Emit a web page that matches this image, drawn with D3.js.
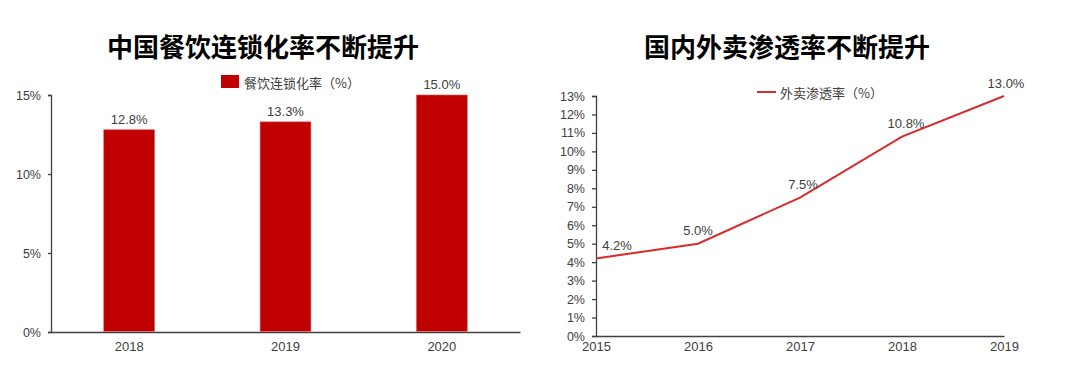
<!DOCTYPE html>
<html><head><meta charset="utf-8">
<script src="https://cdn.jsdelivr.net/npm/d3@7"></script>
<style>
body{margin:0;background:#fff;}
svg{display:block;}
text{font-family:"Liberation Sans",Arial,sans-serif;fill:#404040;}
.cjk{font-family:"Noto Sans CJK SC","Noto Sans",sans-serif;}
</style></head><body>
<svg id="c" width="1080" height="385"></svg>
<script>
// Left chart data
const barTitle = "中国餐饮连锁化率不断提升";
const barLegend = "餐饮连锁化率（%）";
const barCategories = ["2018", "2019", "2020"];
const barValues = [12.8, 13.3, 15.0];
const barTicks = [0, 5, 10, 15];

// Right chart data
const lineTitle = "国内外卖渗透率不断提升";
const lineLegend = "外卖渗透率（%）";
const lineCategories = ["2015", "2016", "2017", "2018", "2019"];
const lineValues = [4.2, 5.0, 7.5, 10.8, 13.0];
const lineTicks = [0,1,2,3,4,5,6,7,8,9,10,11,12,13];

const svg = d3.select("#c");
const axisColor = "#404040";

// ---------- Left: bar chart ----------
const L = {x0: 51, x1: 520, y0: 332, y1: 95};
const xb = d3.scaleBand().domain(barCategories).range([L.x0, L.x1]).paddingInner(0.675).paddingOuter(0.3375);
const yb = d3.scaleLinear().domain([0, 15]).range([L.y0, L.y1]);

svg.append("text").attr("class","cjk").attr("x", 263).attr("y", 45)
  .attr("text-anchor","middle").attr("dominant-baseline","central")
  .style("font-size","26px").style("font-weight","bold").style("fill","#000").text(barTitle);

const gyb = svg.append("g").attr("transform", `translate(${L.x0},0)`)
  .call(d3.axisLeft(yb).tickValues(barTicks).tickFormat(d => d + "%").tickSize(3).tickPadding(7));
gyb.select(".domain").attr("stroke", axisColor).attr("stroke-width", 1.3);
gyb.selectAll(".tick line").attr("stroke", axisColor).attr("stroke-width", 1.3);
gyb.selectAll("text").style("font-size","12.5px").style("fill","#404040").attr("font-family", null);

const gxb = svg.append("g").attr("transform", `translate(0,${L.y0})`)
  .call(d3.axisBottom(xb).tickSize(0).tickPadding(10));
gxb.select(".domain").attr("stroke", axisColor).attr("stroke-width", 1.3);
gxb.selectAll("text").style("font-size","13px").style("fill","#404040").attr("font-family", null);

svg.append("g").selectAll("rect").data(barValues).join("rect")
  .attr("x", (d,i) => xb(barCategories[i]))
  .attr("width", xb.bandwidth())
  .attr("y", d => yb(d))
  .attr("height", d => yb(0) - yb(d) - 0.7)
  .attr("fill", "#C00000").attr("stroke","#E06060").attr("stroke-width",0.6);

svg.append("g").selectAll("text").data(barValues).join("text")
  .attr("x", (d,i) => xb(barCategories[i]) + xb.bandwidth()/2)
  .attr("y", d => yb(d) - 6)
  .attr("text-anchor","middle")
  .style("font-size","13px")
  .text(d => d.toFixed(1) + "%");

// legend left
svg.append("rect").attr("x", 221).attr("y", 75).attr("width", 18).attr("height", 13).attr("fill", "#C00000");
svg.append("text").attr("class","cjk").attr("x", 244).attr("y", 82).attr("dominant-baseline","central")
  .style("font-size","13px").text(barLegend);

// ---------- Right: line chart ----------
const R = {x0: 596, x1: 1004, y0: 336, y1: 96};
const xl = d3.scalePoint().domain(lineCategories).range([R.x0, R.x1]);
const yl = d3.scaleLinear().domain([0, 13]).range([R.y0, R.y1]);

svg.append("text").attr("class","cjk").attr("x", 787).attr("y", 45)
  .attr("text-anchor","middle").attr("dominant-baseline","central")
  .style("font-size","26px").style("font-weight","bold").style("fill","#000").text(lineTitle);

const gyl = svg.append("g").attr("transform", `translate(${R.x0},0)`)
  .call(d3.axisLeft(yl).tickValues(lineTicks).tickFormat(d => d + "%").tickSize(4).tickPadding(7));
gyl.select(".domain").attr("stroke", axisColor).attr("stroke-width", 1.3);
gyl.selectAll(".tick line").attr("stroke", axisColor).attr("stroke-width", 1.3);
gyl.selectAll("text").style("font-size","12.5px").style("fill","#404040").attr("font-family", null);

const gxl = svg.append("g").attr("transform", `translate(0,${R.y0})`)
  .call(d3.axisBottom(xl).tickSize(0).tickPadding(6));
gxl.select(".domain").attr("stroke", axisColor).attr("stroke-width", 1.3);
gxl.selectAll("text").style("font-size","13px").style("fill","#404040").attr("font-family", null);

const line = d3.line().x((d,i) => xl(lineCategories[i])).y(d => yl(d));
svg.append("path").datum(lineValues).attr("d", line)
  .attr("fill","none").attr("stroke","#D92B2B").attr("stroke-width",2);

const labelDx = [21, 0, 3, 4, 2];
svg.append("g").selectAll("text").data(lineValues).join("text")
  .attr("x", (d,i) => xl(lineCategories[i]) + labelDx[i])
  .attr("y", d => yl(d) - 13)
  .attr("dominant-baseline","central")
  .attr("text-anchor","middle")
  .style("font-size","13px")
  .text(d => d.toFixed(1) + "%");

// legend right
svg.append("line").attr("x1", 757).attr("x2", 776).attr("y1", 92).attr("y2", 92)
  .attr("stroke","#D92B2B").attr("stroke-width",2);
svg.append("text").attr("class","cjk").attr("x", 780).attr("y", 92).attr("dominant-baseline","central")
  .style("font-size","13px").text(lineLegend);
</script>
</body></html>
